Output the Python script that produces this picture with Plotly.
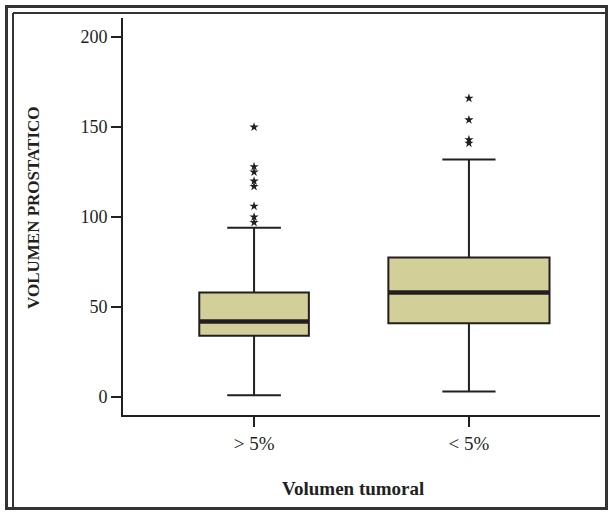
import plotly.graph_objects as go

categories = ["> 5%", "< 5%"]
q1_vals = [34, 41]
median_vals = [42, 58]
q3_vals = [58, 77.5]
lower_vals = [1, 3]
upper_vals = [94, 132]
outliers = [
    [150, 128, 125, 120, 117, 106, 100, 97],
    [166, 154, 143, 141],
]
box_widths = [0.51, 0.75]
whisker_widths = [0.49, 0.33]

INK = "#231f20"
FILL = "#d3cf99"
SERIF = "Liberation Serif, Times New Roman, serif"

fig = go.Figure()
for i, cat in enumerate(categories):
    fig.add_trace(go.Box(
        x=[i], q1=[q1_vals[i]], median=[median_vals[i]], q3=[q3_vals[i]],
        lowerfence=[lower_vals[i]], upperfence=[upper_vals[i]],
        width=box_widths[i], whiskerwidth=whisker_widths[i],
        fillcolor=FILL, line=dict(color=INK, width=2),
        boxpoints=False, showlegend=False, hoverinfo="skip",
    ))
    w = box_widths[i] / 2
    fig.add_trace(go.Scatter(
        x=[i - w, i + w], y=[median_vals[i]] * 2, mode="lines",
        line=dict(color=INK, width=4.5), showlegend=False, hoverinfo="skip",
    ))
    fig.add_trace(go.Scatter(
        x=[i] * len(outliers[i]), y=outliers[i], mode="markers",
        marker=dict(symbol="star", size=7, color=INK),
        showlegend=False, hoverinfo="skip",
    ))

L, R, T, B = 123, 8, 18, 97
W, H = 608, 512
pw, ph = W - L - R, H - T - B

def px(x):
    return (x - L) / pw

def py(y):
    return (H - B - y) / ph

fig.update_layout(
    width=W, height=H,
    margin=dict(l=L, r=R, t=T, b=B),
    paper_bgcolor="white", plot_bgcolor="white",
    font=dict(family=SERIF, color=INK),
    xaxis=dict(
        range=[-0.61, 1.61], tickvals=[0, 1], ticktext=categories,
        ticks="outside", ticklen=10, tickwidth=2, tickcolor=INK,
        showline=True, linecolor=INK, linewidth=2, showgrid=False, zeroline=False,
        tickfont=dict(family=SERIF, size=19, color=INK),
    ),
    yaxis=dict(
        range=[-10, 210.6], tickvals=[0, 50, 100, 150, 200],
        ticks="outside", ticklen=10, tickwidth=2, tickcolor=INK,
        showline=True, linecolor=INK, linewidth=2, showgrid=False, zeroline=False,
        tickfont=dict(family=SERIF, size=18, color=INK),
    ),
    annotations=[
        dict(text="<b>Volumen tumoral</b>", xref="paper", yref="paper",
             x=px(353), y=py(488), xanchor="center", yanchor="middle",
             showarrow=False,
             font=dict(family=SERIF, size=19, color=INK)),
        dict(text="<b>VOLUMEN PROSTATICO</b>", xref="paper", yref="paper",
             x=px(33), y=py(208), xanchor="center", yanchor="middle",
             showarrow=False, textangle=-90,
             font=dict(family=SERIF, size=17, color=INK)),
    ],
    shapes=[
        dict(type="rect", xref="paper", yref="paper",
             x0=px(6.5), x1=px(606.5), y0=py(6.5), y1=py(508.5),
             line=dict(color="#333333", width=3)),
        dict(type="line", xref="paper", yref="paper",
             x0=px(13), x1=px(13), y0=py(13), y1=py(508),
             line=dict(color="#333333", width=2)),
        dict(type="line", xref="paper", yref="paper",
             x0=px(13), x1=px(606), y0=py(13), y1=py(13),
             line=dict(color="#333333", width=2)),
    ],
)

fig.write_html("out.html", config={"displayModeBar": False},
               post_script="document.body.style.margin='0';document.body.style.padding='0';")
